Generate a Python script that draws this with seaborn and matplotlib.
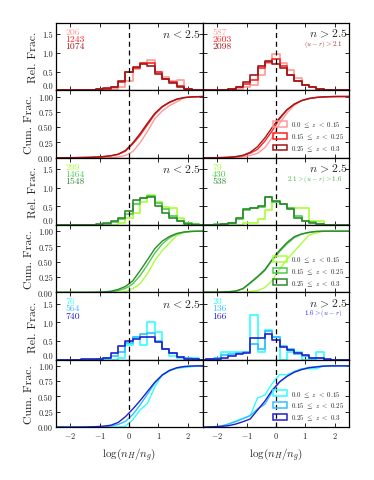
import numpy as np
import pandas as pd
import matplotlib
matplotlib.use("Agg")
import matplotlib.pyplot as plt
from matplotlib.patches import Patch
import seaborn as sns

# bin centres in log(n_H/n_g), bin width 0.25
centers = np.arange(-2.5, 2.5001, 0.25)
edges = np.arange(-2.625, 2.6251, 0.25)

z_labels = [r"$0.0\ \leq\ z\ <\ 0.15$", r"$0.15\ \leq\ z\ <\ 0.25$", r"$0.25\ \leq\ z\ <\ 0.3$"]

# red: (u-r) > 2.1
red_lo_counts = ["206", "1243", "1074"]
red_lo_light = [0, 0, 0, 0, 0, 0, 0, 0, 0.05, 0.10, 0.25, 0.58, 0.72, 0.82, 0.50, 0.35, 0.25, 0.27, 0.05, 0.02, 0]
red_lo_mid = [0, 0, 0.005, 0.01, 0.01, 0.02, 0.03, 0.05, 0.10, 0.22, 0.50, 0.60, 0.72, 0.72, 0.50, 0.30, 0.22, 0.12, 0.05, 0.02, 0.01]
red_lo_dark = [0, 0, 0.005, 0.01, 0.01, 0.02, 0.03, 0.06, 0.10, 0.25, 0.50, 0.62, 0.70, 0.65, 0.45, 0.30, 0.20, 0.10, 0.04, 0.02, 0.01]
red_hi_counts = ["587", "2603", "2098"]
red_hi_light = [0, 0, 0, 0, 0.02, 0.04, 0.10, 0.15, 0.40, 0.72, 0.98, 0.72, 0.55, 0.32, 0.15, 0.08, 0.04, 0.02, 0, 0, 0]
red_hi_mid = [0, 0, 0.01, 0.02, 0.04, 0.08, 0.18, 0.28, 0.60, 0.75, 0.85, 0.65, 0.42, 0.26, 0.15, 0.08, 0.04, 0.02, 0.01, 0, 0]
red_hi_dark = [0, 0, 0.01, 0.02, 0.05, 0.10, 0.22, 0.42, 0.65, 0.78, 0.70, 0.60, 0.42, 0.26, 0.15, 0.08, 0.04, 0.02, 0.01, 0, 0]

# green: 2.1 > (u-r) > 1.6
grn_lo_counts = ["299", "1464", "1548"]
grn_lo_light = [0, 0, 0, 0, 0, 0, 0, 0, 0, 0.05, 0.18, 0.32, 0.62, 0.80, 0.62, 0.48, 0.46, 0.20, 0.05, 0.02, 0]
grn_lo_mid = [0, 0, 0, 0, 0, 0, 0.01, 0.03, 0.08, 0.15, 0.30, 0.55, 0.72, 0.78, 0.60, 0.42, 0.25, 0.12, 0.05, 0.02, 0]
grn_lo_dark = [0, 0, 0, 0, 0, 0.01, 0.02, 0.05, 0.12, 0.20, 0.38, 0.68, 0.72, 0.75, 0.50, 0.32, 0.20, 0.10, 0.04, 0.01, 0]
grn_hi_counts = ["79", "430", "538"]
grn_hi_light = [0, 0, 0, 0, 0, 0, 0.05, 0.05, 0.17, 0.40, 0.62, 0.55, 0.45, 0.45, 0.45, 0.12, 0.10, 0, 0, 0, 0]
grn_hi_mid = [0.01, 0, 0.02, 0.02, 0.05, 0.15, 0.40, 0.45, 0.48, 0.75, 0.62, 0.55, 0.45, 0.25, 0.12, 0.08, 0.02, 0, 0, 0, 0]
grn_hi_dark = [0.01, 0, 0.01, 0.02, 0.05, 0.19, 0.43, 0.45, 0.50, 0.75, 0.65, 0.57, 0.43, 0.20, 0.12, 0.06, 0.02, 0, 0, 0, 0]

# blue: 1.6 > (u-r)
blu_lo_counts = ["76", "564", "740"]
blu_lo_light = [0, 0, 0, 0, 0, 0, 0, 0, 0, 0.05, 0.40, 0.60, 0.40, 1.00, 0.73, 0.30, 0.10, 0.05, 0.05, 0.05, 0]
blu_lo_mid = [0, 0, 0, 0, 0, 0, 0.02, 0.05, 0.10, 0.20, 0.45, 0.62, 0.70, 0.72, 0.50, 0.30, 0.18, 0.08, 0.04, 0.02, 0]
blu_lo_dark = [0, 0, 0, 0, 0.01, 0.02, 0.03, 0.06, 0.18, 0.38, 0.50, 0.55, 0.60, 0.60, 0.47, 0.30, 0.18, 0.08, 0.03, 0.01, 0]
blu_hi_counts = ["20", "136", "166"]
blu_hi_light = [0, 0, 0, 0.2, 0.2, 0.2, 0.2, 1.2, 0.2, 0.8, 0.6, 0, 0.2, 0.2, 0, 0, 0.2, 0, 0, 0, 0]
blu_hi_mid = [0, 0.02, 0.05, 0.12, 0.15, 0.18, 0.20, 0.42, 0.30, 0.78, 0.60, 0.37, 0.30, 0.15, 0.10, 0.05, 0.05, 0, 0, 0, 0]
blu_hi_dark = [0, 0.02, 0.02, 0.05, 0.10, 0.15, 0.18, 0.57, 0.57, 0.70, 0.53, 0.35, 0.26, 0.17, 0.12, 0.05, 0.05, 0.02, 0, 0, 0]

red_cols = ["#ff9a9a", "#ff2020", "#a01818"]
grn_cols = ["#a8ff3a", "#4ccc4c", "#2e8a2e"]
blu_cols = ["#30ffff", "#30c0ff", "#2020d0"]

groups = [
    (red_cols, (red_lo_light, red_lo_mid, red_lo_dark), red_lo_counts,
     (red_hi_light, red_hi_mid, red_hi_dark), red_hi_counts, r"$(u-r)>2.1$", "#b03030"),
    (grn_cols, (grn_lo_light, grn_lo_mid, grn_lo_dark), grn_lo_counts,
     (grn_hi_light, grn_hi_mid, grn_hi_dark), grn_hi_counts, r"$2.1>(u-r)>1.6$", "#44b044"),
    (blu_cols, (blu_lo_light, blu_lo_mid, blu_lo_dark), blu_lo_counts,
     (blu_hi_light, blu_hi_mid, blu_hi_dark), blu_hi_counts, r"$1.6>(u-r)$", "#3333ee"),
]

sns.set_style("ticks")
plt.rcParams["font.family"] = "serif"
plt.rcParams["font.serif"] = ["cmr10", "DejaVu Serif"]
plt.rcParams["mathtext.fontset"] = "cm"
plt.rcParams["axes.formatter.use_mathtext"] = True
plt.rcParams["axes.edgecolor"] = "black"
plt.rcParams["axes.linewidth"] = 0.9

fig = plt.figure(figsize=(3.74, 4.81), dpi=100)
axes = fig.subplots(6, 2, sharex=True, gridspec_kw=dict(hspace=0, wspace=0))
fig.subplots_adjust(left=0.149, right=0.934, top=0.950, bottom=0.110)

for g, (cols, lo, lo_n, hi, hi_n, colour_txt, txt_col) in enumerate(groups):
    for col, (series, counts, ntxt) in enumerate([(lo, lo_n, r"$n\,<2.5$"), (hi, hi_n, r"$n\,>2.5$")]):
        ax_rel = axes[2 * g, col]
        ax_cum = axes[2 * g + 1, col]
        for h, c in zip(series, cols):
            h = np.array(h, dtype=float)
            df = pd.DataFrame({"x": centers, "w": h})
            sns.histplot(data=df, x="x", weights="w", bins=list(edges), element="step",
                         fill=False, color=c, lw=1.2, ax=ax_rel)
            cdf = np.concatenate([[0], np.cumsum(h)]) / h.sum()
            sns.lineplot(x=edges, y=cdf, color=c, lw=1.0, ax=ax_cum)

        for i, (t, c) in enumerate(zip(counts, cols)):
            ax_rel.text(0.065, 0.87 - 0.105 * i, t, color=c, fontsize=7,
                        transform=ax_rel.transAxes, ha="left", va="center")
        ax_rel.text(0.985, 0.85, ntxt, fontsize=8.5, transform=ax_rel.transAxes,
                    ha="right", va="center")
        if col == 1:
            ax_rel.text(0.955, 0.695, colour_txt, color=txt_col, fontsize=5,
                        transform=ax_rel.transAxes, ha="right", va="center")
            handles = [Patch(facecolor="none", edgecolor=c, lw=1.1) for c in cols]
            ax_cum.legend(handles, z_labels, loc="lower right", fontsize=5, frameon=False,
                          handlelength=2.0, handleheight=0.9, labelspacing=0.25,
                          borderaxespad=0.3, handletextpad=0.6)

        ax_rel.set_ylim(0, 1.8)
        ax_rel.set_yticks([0, 0.5, 1.0, 1.5])
        ax_cum.set_ylim(0, 1.1)
        ax_cum.set_yticks([0, 0.25, 0.5, 0.75, 1.0])
        ax_rel.yaxis.set_major_formatter(matplotlib.ticker.FormatStrFormatter("%.1f"))
        ax_cum.yaxis.set_major_formatter(matplotlib.ticker.FormatStrFormatter("%.2f"))
        for ax in (ax_rel, ax_cum):
            ax.axvline(0, color="black", ls="--", lw=0.9, dashes=(4, 3))
            ax.set_xlim(-2.5, 2.5)
            ax.set_xticks([-2, -1, 0, 1, 2])
            ax.tick_params(direction="in", top=True, right=True, length=3,
                           width=0.7, labelsize=6, pad=2)
            ax.set_ylabel("")
            ax.set_xlabel("")
            if col == 1:
                ax.tick_params(labelleft=False)
        if col == 0:
            ax_rel.set_ylabel("Rel. Frac.", fontsize=8.5, labelpad=3)
            ax_cum.set_ylabel("Cum. Frac.", fontsize=8.5, labelpad=3)
            # lift the 0.0 label so it clears the 1.00 label below it
            fig.canvas.draw()
            ax_rel.get_yticklabels()[0].set_verticalalignment("bottom")

for ax in axes[5]:
    ax.set_xlabel(r"$\log(n_H/n_g)$", fontsize=8)

fig.savefig("out.png", dpi=100)
